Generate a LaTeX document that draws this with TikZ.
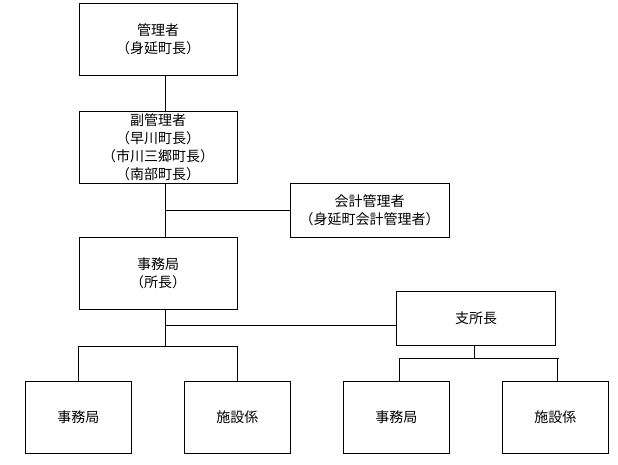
\documentclass[tikz,border=0pt]{standalone}
\usepackage{fontspec}
\setmainfont{Noto Sans CJK JP}
\begin{document}
\begin{tikzpicture}[x=1pt,y=-1pt,
  every node/.style={font=\fontsize{14}{18}\selectfont, align=center, inner sep=0pt},
  orgbox/.style={draw, line width=1pt, minimum width=158pt, minimum height=72pt},
  widebox/.style={draw, line width=1pt, minimum width=159pt, minimum height=54pt},
  smallbox/.style={draw, line width=1pt, minimum width=106pt, minimum height=72pt},
  conn/.style={line width=1pt}]
\useasboundingbox[fill=white] (0,0) rectangle (618,464);
\node[orgbox] (m1) at (158,39) {管理者\\（身延町長）};
\node[orgbox] (m2) at (158,147) {副管理者\\（早川町長）\\（市川三郷町長）\\（南部町長）};
\node[widebox] (m3) at (369.5,210) {会計管理者\\（身延町会計管理者）};
\node[orgbox] (m4) at (158,273) {事務局\\（所長）};
\node[widebox] (m5) at (476,318) {支所長};
\node[smallbox] (b1) at (78.3,417) {事務局};
\node[smallbox] (b2) at (237.3,417) {施設係};
\node[smallbox] (b3) at (396.3,417) {事務局};
\node[smallbox] (b4) at (555.3,417) {施設係};
\coordinate (tx) at (165,0);
\coordinate (j1) at (165,325);
\coordinate (j2) at (165,346);
\coordinate (l1) at (78.3,346);
\coordinate (l2) at (237.7,346);
\coordinate (sx) at (474.3,0);
\coordinate (j3) at (474.3,358.3);
\coordinate (r1) at (398.7,358.3);
\coordinate (r2) at (558.7,358.3);
\coordinate (rd1) at (399.3,0);
\coordinate (rd2) at (557.3,0);
\draw[conn] (m1.south -| tx) -- (m2.north -| tx);
\draw[conn] (m2.south -| tx) -- (m4.north -| tx);
\draw[conn] (tx |- m3.west) -- (m3.west);
\draw[conn] (m4.south -| tx) -- (j2);
\draw[conn] (j1) -- (j1 -| m5.west);
\draw[conn] (l1) -- (l2);
\draw[conn] (l1) -- (b1.north);
\draw[conn] (l2) -- (l2 |- b2.north);
\draw[conn] (m5.south -| sx) -- (j3);
\draw[conn] (r1) -- (r2);
\draw[conn] (rd1 |- r1) -- (rd1 |- b3.north);
\draw[conn] (rd2 |- r2) -- (rd2 |- b4.north);
\end{tikzpicture}
\end{document}
